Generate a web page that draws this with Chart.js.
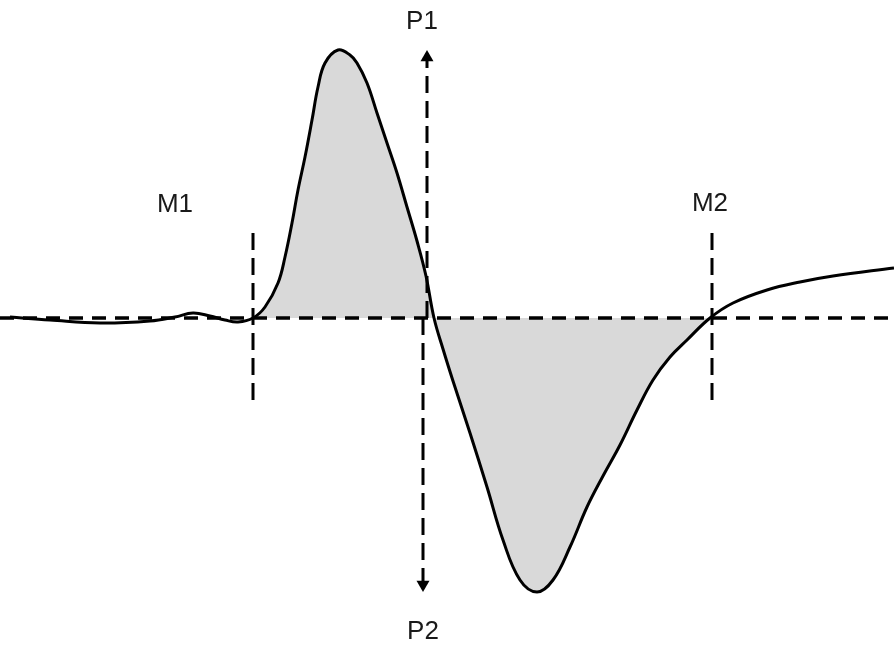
<!DOCTYPE html>
<html>
<head>
<meta charset="utf-8">
<script src="https://cdn.jsdelivr.net/npm/chart.js@4.4.1/dist/chart.umd.min.js"></script>
<style>
  body { margin: 0; background: #fff; }
  canvas { display: block; }
</style>
</head>
<body>
<canvas id="wave" width="894" height="648"></canvas>
<script>
// waveform (time units, amplitude units)
const waveX = [10, 50, 100, 150, 175, 193, 210, 225, 238, 253, 265, 278, 285, 292, 298, 305, 312, 318, 325, 338, 350, 357, 367, 377, 387, 397, 407, 417, 426, 434, 443,
  453, 470, 487, 503, 520, 537, 553, 570, 587, 603, 620, 637, 653, 670, 687, 710, 733, 767, 800, 833, 894];
const waveY = [0.01, -0.02, -0.05, -0.03, 0.01, 0.05, 0.02, -0.02, -0.04, 0, 0.11, 0.35, 0.61, 0.95, 1.28, 1.61, 1.98, 2.31, 2.55, 2.68, 2.63, 2.55, 2.35, 2.05, 1.75, 1.45, 1.11, 0.77, 0.42, 0, -0.31,
  -0.63, -1.15, -1.69, -2.22, -2.62, -2.74, -2.62, -2.29, -1.89, -1.58, -1.27, -0.92, -0.62, -0.39, -0.22, 0, 0.15, 0.28, 0.36, 0.42, 0.50];

// markers
const m1X = 253, m2X = 712;
const markerTop = 0.85, markerBottom = -0.82;
const p1X = 427, p1Top = 2.605;
const p2X = 423, p2Bottom = -2.665;

// text labels
const labelText = ['M1', 'M2', 'P1', 'P2'];
const labelX = [175, 710, 422, 423];
const labelY = [1.13, 1.14, 2.96, -3.14];

const curve = waveX.map((x, i) => ({ x: x, y: waveY[i] }));
const shaded = curve.filter(p => p.x >= m1X && p.x <= 710);

const hDash = { borderColor: '#000', borderWidth: 3.5, borderDash: [14, 9], pointRadius: 0, fill: false, tension: 0, order: 1 };
const vDash = { borderColor: '#000', borderWidth: 3, borderDash: [17, 8], pointRadius: 0, fill: false, tension: 0, order: 1 };

const labelPlugin = {
  id: 'labels',
  afterDatasetsDraw(chart) {
    const ctx = chart.ctx;
    const xs = chart.scales.x, ys = chart.scales.y;
    ctx.save();
    ctx.font = '26px "Liberation Sans", Arial, sans-serif';
    ctx.fillStyle = '#1a1a1a';
    ctx.textAlign = 'center';
    ctx.textBaseline = 'middle';
    labelText.forEach((t, i) => {
      ctx.fillText(t, xs.getPixelForValue(labelX[i]), ys.getPixelForValue(labelY[i]));
    });
    ctx.restore();
  }
};

new Chart(document.getElementById('wave'), {
  type: 'line',
  data: {
    datasets: [
      {
        data: curve, borderColor: '#000', borderWidth: 3, pointRadius: 0,
        tension: 0.4, fill: false, order: 0
      },
      Object.assign({}, hDash, { data: [{ x: 0, y: 0 }, { x: 894, y: 0 }] }),
      Object.assign({}, vDash, { data: [{ x: m1X, y: markerTop }, { x: m1X, y: markerBottom }] }),
      Object.assign({}, vDash, { data: [{ x: m2X, y: markerTop }, { x: m2X, y: markerBottom }] }),
      Object.assign({}, vDash, {
        data: [{ x: p1X, y: 0 }, { x: p1X, y: p1Top }],
        pointRadius: [0, 7.5], pointStyle: 'triangle', pointBackgroundColor: '#000', pointBorderWidth: 0
      }),
      Object.assign({}, vDash, {
        data: [{ x: p2X, y: 0 }, { x: p2X, y: p2Bottom }],
        pointRadius: [0, 7.5], pointStyle: 'triangle', pointRotation: 180, pointBackgroundColor: '#000', pointBorderWidth: 0
      }),
      {
        data: shaded, borderWidth: 0, borderColor: 'rgba(0,0,0,0)', pointRadius: 0,
        tension: 0.4, fill: 'origin', backgroundColor: '#d9d9d9', order: 5
      }
    ]
  },
  options: {
    responsive: false,
    animation: false,
    layout: { padding: 0, autoPadding: false },
    plugins: { legend: { display: false }, tooltip: { enabled: false } },
    scales: {
      x: { type: 'linear', min: 0, max: 894, display: false },
      y: { type: 'linear', min: -3.3, max: 3.18, display: false }
    }
  },
  plugins: [labelPlugin]
});
</script>
</body>
</html>
